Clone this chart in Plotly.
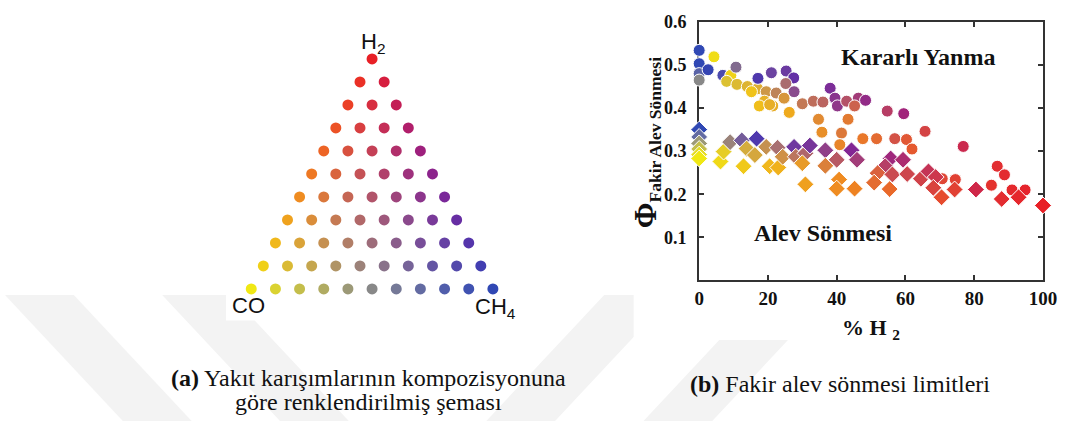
import plotly.graph_objects as go

# ---------------- data ----------------
# (a) composition grid: % H2 and % CH4 (rest CO), 10 % steps
grid_steps = list(range(0, 101, 10))
tri_h2 = []
tri_ch4 = []
for h in grid_steps:
    for c in range(0, 101 - h, 10):
        tri_h2.append(h)
        tri_ch4.append(c)

# (b) lean blow-off limits: circles (upper set)
circ_h2 = [0, 0, 0, 0, 2.6, 4.3, 6.9, 9.2, 10.7, 8, 11, 14, 17, 15.2, 17.1, 21.0, 19.5,
           19.0, 17.5, 21.4, 22.4, 25.3, 27.5, 25.2, 27.6, 24.7, 20.5, 26.2, 30.0, 33.2,
           36.0, 38.1, 39.5, 40.2, 42.9, 46.3, 48.4, 45.2, 34.7, 43.3, 35.7, 41.4, 40.9,
           47.6, 51.6, 54.7, 59.5, 56.9, 60.3, 61.9, 65.7, 76.8, 86.7, 88.8, 85.0, 91.0,
           94.8, 74.5, 70.7]
circ_phi = [0.534, 0.503, 0.480, 0.465, 0.489, 0.519, 0.476, 0.476, 0.495, 0.462, 0.455,
            0.450, 0.445, 0.438, 0.469, 0.482, 0.438, 0.416, 0.405, 0.405, 0.435, 0.486,
            0.470, 0.457, 0.438, 0.423, 0.408, 0.390, 0.410, 0.416, 0.414, 0.446, 0.423,
            0.405, 0.416, 0.423, 0.418, 0.405, 0.374, 0.374, 0.344, 0.342, 0.315, 0.329,
            0.329, 0.393, 0.387, 0.329, 0.327, 0.305, 0.346, 0.311, 0.265, 0.245, 0.221,
            0.210, 0.210, 0.234, 0.236]
# CH4 share of the non-H2 part (0 = all CO, 1 = all CH4)
circ_ch4share = [1, 1, 0.75, 0.5, 1, 0, 0.9, 0, 0.6, 0.1, 0.1, 0.1, 0.1, 0, 1, 0.85, 0.2,
                 0.05, 0, 0.05, 0.3, 0.9, 1, 0.45, 0.7, 0.15, 0.05, 0, 0.3, 0.35,
                 0.4, 0.95, 0.85, 0.8, 0.5, 0.7, 0.9, 0.3, 0.1, 0.1, 0.05, 0.15, 0.05,
                 0.05, 0.1, 0.6, 0.95, 0.3, 0.15, 0.1, 0.35, 0.7, 0.3, 0.3, 0.2, 0.3,
                 0.4, 0.2, 0.2]

# diamonds (lower set)
dia_h2 = [0, 0, 0, 0, 0, 0, 6.2, 7.1, 9.0, 12.4, 13.8, 12.9, 16.2, 16.7, 19.5, 20.5, 23.0,
          22.8, 24.3, 27.6, 28.1, 30.9, 32.2, 30.0, 36.7, 40.0, 36.7, 44.3, 45.9, 30.9,
          40.7, 40.0, 45.2, 55.7, 59.3, 54.1, 51.9, 56.2, 60.5, 50.9, 55.4, 64.5, 66.7,
          68.8, 68.1, 70.5, 74.3, 80.5, 88.0, 92.9, 100]
dia_phi = [0.350, 0.333, 0.318, 0.305, 0.292, 0.283, 0.276, 0.299, 0.321, 0.325, 0.306,
           0.265, 0.291, 0.329, 0.310, 0.265, 0.262, 0.308, 0.287, 0.310, 0.287, 0.295,
           0.313, 0.272, 0.302, 0.280, 0.266, 0.302, 0.280, 0.223, 0.234, 0.213, 0.213,
           0.283, 0.280, 0.265, 0.249, 0.246, 0.247, 0.227, 0.212, 0.236, 0.253, 0.240,
           0.215, 0.193, 0.211, 0.211, 0.189, 0.193, 0.174]
dia_ch4share = [1, 0.7, 0.4, 0.2, 0.05, 0, 0, 0.05, 0.45, 0.7, 0.15, 0, 0.15, 1, 0.25, 0, 0,
                0.45, 0.2, 0.9, 0.35, 0.45, 0.9, 0.05, 0.75, 0.45, 0.15, 1, 0.7, 0,
                0, 0, 0, 0.9, 0.8, 0.6, 0.2, 0.4, 0.4, 0.1, 0.05, 0.4, 0.6,
                0.5, 0.3, 0.1, 0.2, 0.7, 0.3, 0.3, 0.5]

x_ticks = [0, 20, 40, 60, 80, 100]
y_ticks = [0.1, 0.2, 0.3, 0.4, 0.5, 0.6]

# ---------------- colour mixing (style) ----------------
C_H2 = (232, 32, 38)
C_CO = (240, 232, 20)
C_CH4 = (48, 72, 180)
M_H2_CO = (238, 120, 35)
M_CO_CH4 = (136, 136, 136)
M_CH4_H2 = (140, 35, 140)


def mix(h, co, ch):
    s = h + co + ch
    a, b, c = h / s, co / s, ch / s
    out = []
    for k in range(3):
        v = (C_H2[k] * a * (2 * a - 1) + C_CO[k] * b * (2 * b - 1) + C_CH4[k] * c * (2 * c - 1)
             + 4 * a * b * M_H2_CO[k] + 4 * b * c * M_CO_CH4[k] + 4 * c * a * M_CH4_H2[k])
        out.append(int(max(0, min(255, round(v)))))
    return "rgb(%d,%d,%d)" % tuple(out)


def mix_share(h2pct, share):
    h = h2pct / 100.0
    return mix(h, (1 - h) * (1 - share), (1 - h) * share)


tri_colors = [mix(h, 100 - h - c, c) for h, c in zip(tri_h2, tri_ch4)]
circ_colors = [mix_share(h, s) for h, s in zip(circ_h2, circ_ch4share)]
dia_colors = [mix_share(h, s) for h, s in zip(dia_h2, dia_ch4share)]

W, H = 1072, 421


def px(x):
    return x / W


def py(y):
    return 1 - y / H


fig = go.Figure()

# (a) triangle of compositions (position = CH4 + H2/2, height = H2)
fig.add_trace(go.Scatter(
    x=[c + h / 2 for h, c in zip(tri_h2, tri_ch4)], y=tri_h2,
    mode="markers", xaxis="x", yaxis="y",
    marker=dict(size=11, color=tri_colors, line=dict(width=0)),
    showlegend=False, hoverinfo="skip", cliponaxis=False))

# (b) blow-off data
fig.add_trace(go.Scatter(
    x=circ_h2, y=circ_phi, mode="markers", xaxis="x2", yaxis="y2",
    marker=dict(symbol="circle", size=12, color=circ_colors, line=dict(width=1, color="white")),
    showlegend=False, cliponaxis=False))
fig.add_trace(go.Scatter(
    x=dia_h2, y=dia_phi, mode="markers", xaxis="x2", yaxis="y2",
    marker=dict(symbol="diamond", size=13, color=dia_colors, line=dict(width=1, color="white")),
    showlegend=False, cliponaxis=False))

serif = "Liberation Serif, Times New Roman, serif"
sans = "Liberation Sans, Arial, sans-serif"
axcol = "#333333"

fig.update_layout(
    width=W, height=H, autosize=False,
    margin=dict(l=0, r=0, t=0, b=0),
    paper_bgcolor="white", plot_bgcolor="white",
    xaxis=dict(domain=[px(226.1), px(521.3)], range=[-10, 110], visible=False),
    yaxis=dict(domain=[py(309.3), py(26.5)], range=[-10, 110], visible=False),
    xaxis2=dict(domain=[px(706.7), px(1056.7)], range=[0, 100], anchor="y2",
                tickvals=x_ticks, ticks="inside", ticklen=5, tickwidth=1.5, tickcolor=axcol,
                showline=True, linecolor=axcol, linewidth=2, mirror="ticks",
                showgrid=False, zeroline=False, layer="below traces",
                tickfont=dict(family=serif, size=19, color="#111", weight="bold"),
                ticklabelstandoff=0),
    yaxis2=dict(domain=[py(277), py(12.2)], range=[0, 0.6], anchor="x2",
                tickvals=y_ticks, ticktext=["0.1", "0.2", "0.3", "0.4", "0.5", "0.6"],
                ticks="inside", ticklen=5, tickwidth=1.5, tickcolor=axcol,
                showline=True, linecolor=axcol, linewidth=2, mirror="ticks",
                showgrid=False, zeroline=False, layer="below traces",
                tickfont=dict(family=serif, size=18, color="#111", weight="bold"),
                ticklabelstandoff=7),
)

# watermark-like faint stripes and white backdrops of the two panels
stripes = [
    [(0, 292), (70, 292), (190, 421), (120, 421)],
    [(160, 292), (230, 292), (350, 421), (280, 421)],
    [(610, 292), (680, 292), (560, 421), (490, 421)],
    [(770, 292), (840, 292), (720, 421), (650, 421)],
]
shapes = []
for poly in stripes:
    path = "M " + " L ".join("%f,%f" % (px(x), py(y)) for x, y in poly) + " Z"
    shapes.append(dict(type="path", path=path, xref="paper", yref="paper",
                       fillcolor="#f3f3f3", line=dict(width=0), layer="below"))
shapes.append(dict(type="rect", xref="paper", yref="paper", x0=px(225), x1=px(522),
                   y0=py(318), y1=py(0), fillcolor="white", line=dict(width=0), layer="below"))
shapes.append(dict(type="rect", xref="paper", yref="paper", x0=px(640), x1=px(1072),
                   y0=py(338), y1=py(0), fillcolor="white", line=dict(width=0), layer="below"))
fig.update_layout(shapes=shapes)


def label(text, x, y, font, angle=0):
    return dict(text=text, x=px(x), y=py(y), xref="paper", yref="paper",
                xanchor="center", yanchor="middle", showarrow=False,
                textangle=angle, font=font)


f_sans = dict(family=sans, size=22, color="#111")
f_bold = dict(family=serif, size=24, color="#111", weight="bold")
f_cap = dict(family=serif, size=24, color="#111")

ann = [
    label("H<sub>2</sub>", 375, 34, f_sans),
    label("CO", 248, 303, f_sans),
    label("CH<sub>4</sub>", 499, 305, f_sans),
    label("Kararlı Yanma", 929, 48, f_bold),
    label("Alev Sönmesi", 833, 228, f_bold),
    label("% H <sub>2</sub>", 882, 327, dict(family=serif, size=22, color="#111", weight="bold")),
    label('<span style="font-size:31px">Φ</span><sub>Fakir Alev Sönmesi</sub>', 653, 136,
          dict(family=serif, size=25, color="#111", weight="bold"), angle=-90),
    label("<b>(a)</b> Yakıt karışımlarının kompozisyonuna", 370, 377, f_cap),
    label("göre renklendirilmiş şeması", 370, 402, f_cap),
    label("<b>(b)</b> Fakir alev sönmesi limitleri", 850, 383, f_cap),
]
fig.update_layout(annotations=ann)

fig.write_html("out.html", post_script="document.body.style.margin='0';",
               config={"displayModeBar": False})
